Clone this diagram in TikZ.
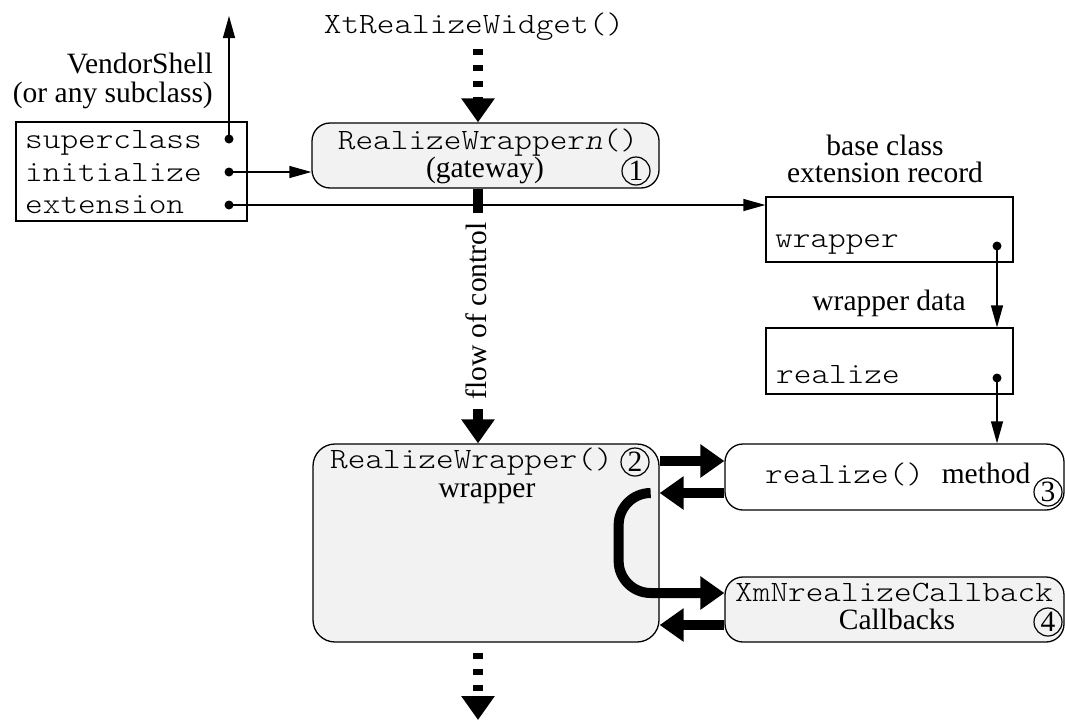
\documentclass[tikz,border=0pt]{standalone}
\usepackage{fontspec}
\setmainfont{Liberation Serif}
\newfontfamily\labelfont{Liberation Serif}
\setmonofont{Latin Modern Mono Light}[FakeStretch=1.14]
\usetikzlibrary{arrows.meta,calc}
\definecolor{boxgray}{HTML}{F2F2F2}

\begin{document}
\begin{tikzpicture}[x=1pt,y=-1pt,
  every node/.style={inner sep=0pt},
  txt/.style={font=\fontsize{29.5}{28}\selectfont\labelfont},
  code/.style={font=\fontsize{29.5}{28}\selectfont\ttfamily},
  recbox/.style={draw=black, line width=1.3pt, rectangle},
  procbox/.style={draw=black, line width=1.3pt, rounded corners=18pt, fill=boxgray},
  num/.style={draw=black, circle, line width=1.2pt, minimum size=28pt,
              font=\fontsize{29.5}{28}\selectfont\labelfont},
  ptr/.style={circle, fill=black, minimum size=9pt},
  thinarrow/.style={line width=1.3pt, -{Triangle[length=22pt,width=12pt]}},
  bigarrow/.style={line width=10pt, -{Triangle[length=24pt,width=32pt]}},
  dashflow/.style={bigarrow, dash pattern=on 6pt off 10pt},
]
\useasboundingbox (0,0) rectangle (1065,720);

% boxes
\node[recbox, minimum width=231pt, minimum height=99pt] (vs) at (131.5,171.5) {};
\node[procbox, minimum width=347pt, minimum height=65pt] (gw) at (485.5,155.5) {};
\node[recbox, minimum width=247pt, minimum height=65pt] (ext) at (889.5,229.5) {};
\node[recbox, minimum width=247pt, minimum height=66pt] (wd) at (889.5,361) {};
\node[procbox, rounded corners=22pt, minimum width=346pt, minimum height=198pt] (wr) at (486,543) {};
\node[procbox, fill=white, minimum width=339pt, minimum height=66pt] (rm) at (894.5,477) {};
\node[procbox, minimum width=339pt, minimum height=65pt] (cb) at (894.5,609.5) {};

% labels and fields
\node[code, anchor=base] (xtr) at (474,33) {XtRealizeWidget()};
\node[txt, anchor=base east] (vsn) at (213,73) {VendorShell};
\node[txt, anchor=base east] (vss) at (213,102) {(or any subclass)};
\node[code, anchor=base west] (f1) at (25,148) {superclass};
\node[code, anchor=base west] (f2) at (25,181) {initialize};
\node[code, anchor=base west] (f3) at (25,213) {extension};

\node[code, anchor=base] (gwt) at (488,149) {RealizeWrapper\textit{n}()};
\node[txt, anchor=base] (gwg) at (485,177) {(gateway)};
\node[num] (n1) at (636,171) {1};

\node[txt, anchor=base] (bc1) at (885,155) {base class};
\node[txt, anchor=base] (bc2) at (885,182) {extension record};
\node[code, anchor=base west] (wf) at (775,247) {wrapper};
\node[txt, anchor=base] (wdl) at (889,310) {wrapper data};
\node[code, anchor=base west] (rf) at (776,383) {realize};

\node[txt, anchor=base west] (rmt) at (765,483) {\texttt{realize()\ }method};
\node[num] (n3) at (1048,492) {3};
\node[code, anchor=base west] (cbt) at (735,601) {XmNrealizeCallback};
\node[txt, anchor=base] (cbl) at (897,629) {Callbacks};
\node[num] (n4) at (1048,622) {4};

\node[code, anchor=base west] (wrt) at (330,468) {RealizeWrapper()};
\node[txt, anchor=base] (wrl) at (487,497) {wrapper};
\node[num] (n2) at (635,462) {2};

% pointer dots
\node[ptr] (d1) at (229,139) {};
\node[ptr] (d2) at (229,172) {};
\node[ptr] (d3) at (229,205) {};
\node[ptr] (d4) at (997,246) {};
\node[ptr] (d5) at (997,378) {};

% pointers
\coordinate (up) at (229,16);
\draw[thinarrow] (d1.center) -- (up);
\draw[thinarrow] (d2.center) -- (d2.center -| gw.west);
\draw[thinarrow] (d3.center) -- (d3.center -| ext.west);
\draw[thinarrow] (d4.center) -- (d4.center |- wd.north);
\draw[thinarrow] (d5.center) -- (d5.center |- rm.north);

% flow of control
\coordinate (fin) at (478,49);
\coordinate (fout) at (478,720);
\draw[dashflow] (fin) -- (fin |- gw.north);
\draw[bigarrow] (fin |- gw.south) -- (fin |- wr.north);
\node[txt, rotate=90, fill=white, inner xsep=10pt, inner ysep=2pt] (foc) at (476,311) {flow of control};
\draw[dashflow, shorten <=10pt] (fin |- wr.south) -- (fout);

% calls out of the wrapper
\coordinate (a1) at ($(rm.west)+(0,-16)$);
\coordinate (a2) at ($(rm.west)+(0,16)$);
\coordinate (a3) at ($(cb.west)+(0,-16.5)$);
\coordinate (a4) at ($(cb.west)+(0,15.5)$);
\draw[bigarrow] (a1 -| wr.east) -- (a1);
\draw[bigarrow] (a2) -- (a2 -| wr.east);
\draw[bigarrow, rounded corners=32pt]
  ($(a2 -| wr.east)+(-9,0)$) -- ($(a2 -| wr.east)+(-41,0)$)
  -- ($(a3 -| wr.east)+(-41,0)$) -- (a3);
\draw[bigarrow] (a4) -- (a4 -| wr.east);
\end{tikzpicture}
\end{document}
